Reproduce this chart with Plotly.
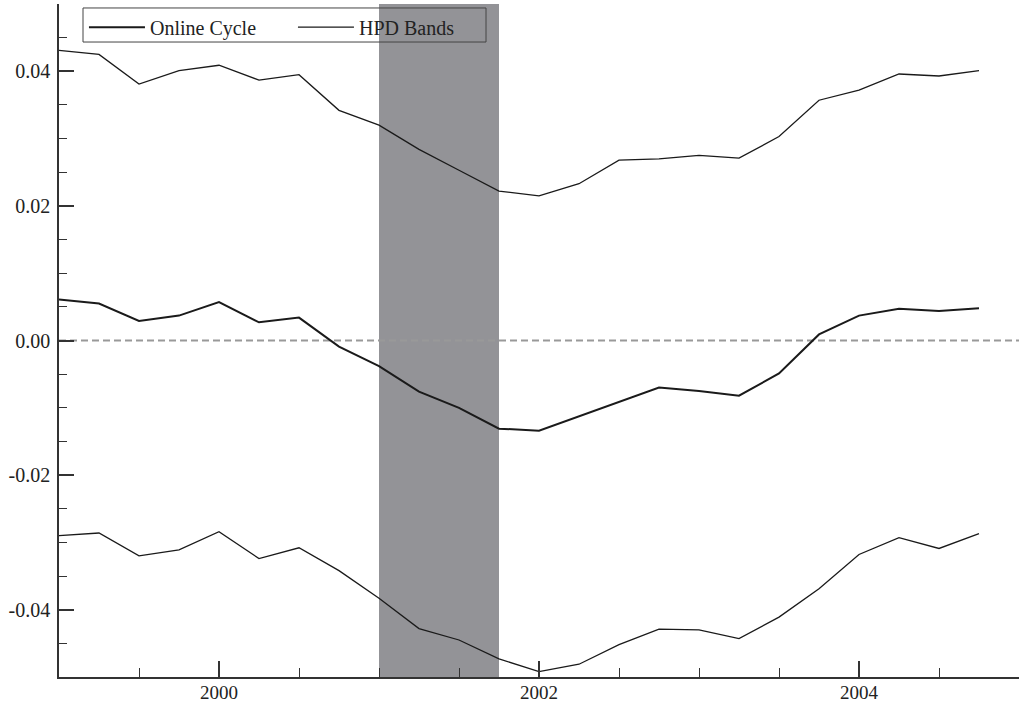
import plotly.graph_objects as go

# Quarterly dates (decimal years)
quarters = [1999.0, 1999.25, 1999.5, 1999.75,
            2000.0, 2000.25, 2000.5, 2000.75,
            2001.0, 2001.25, 2001.5, 2001.75,
            2002.0, 2002.25, 2002.5, 2002.75,
            2003.0, 2003.25, 2003.5, 2003.75,
            2004.0, 2004.25, 2004.5, 2004.75]

online_cycle = [0.0061, 0.0055, 0.0029, 0.0037,
                0.0057, 0.0027, 0.0034, -0.0009,
                -0.0038, -0.0076, -0.0100, -0.0131,
                -0.0134, -0.0113, -0.0092, -0.0070,
                -0.0075, -0.0082, -0.0049, 0.0009,
                0.0037, 0.0047, 0.0044, 0.0048]

hpd_upper = [0.0431, 0.0425, 0.0381, 0.0401,
             0.0409, 0.0387, 0.0395, 0.0342,
             0.0320, 0.0284, 0.0253, 0.0222,
             0.0215, 0.0233, 0.0268, 0.0270,
             0.0275, 0.0271, 0.0303, 0.0357,
             0.0372, 0.0396, 0.0393, 0.0401]

hpd_lower = [-0.0290, -0.0286, -0.0320, -0.0311,
             -0.0284, -0.0324, -0.0308, -0.0342,
             -0.0383, -0.0428, -0.0445, -0.0473,
             -0.0492, -0.0481, -0.0452, -0.0429,
             -0.0430, -0.0443, -0.0411, -0.0369,
             -0.0318, -0.0293, -0.0309, -0.0287]

recession = [2001.0, 2001.75]

y_tickvals = [-0.04, -0.02, 0.0, 0.02, 0.04]
y_ticktext = ["-0.04", "-0.02", "0.00", "0.02", "0.04"]
x_tickvals = [2000, 2002, 2004]
x_ticktext = ["2000", "2002", "2004"]

FONT = "Liberation Serif, Times New Roman, serif"
LINE_COLOR = "#1a1a1a"
AX_COLOR = "#333"

fig = go.Figure()

fig.add_trace(go.Scatter(
    x=quarters, y=online_cycle, mode="lines", name="Online Cycle",
    legend="legend", line=dict(color=LINE_COLOR, width=2.0)))
fig.add_trace(go.Scatter(
    x=quarters, y=hpd_upper, mode="lines", name="HPD Bands",
    legend="legend2", line=dict(color=LINE_COLOR, width=1.3)))
fig.add_trace(go.Scatter(
    x=quarters, y=hpd_lower, mode="lines", name="HPD Bands lower",
    showlegend=False, line=dict(color=LINE_COLOR, width=1.3)))

# recession shading
fig.add_shape(type="rect", xref="x", yref="paper",
              x0=recession[0], x1=recession[1], y0=0, y1=1,
              fillcolor="#939397", line=dict(width=0), layer="below")

# dashed zero line
fig.add_shape(type="line", xref="paper", yref="y",
              x0=0, x1=1, y0=0, y1=0,
              line=dict(color="#999999", width=2, dash="7px,4px"),
              layer="below")

# legend frame
fig.add_shape(type="rect", xref="paper", yref="paper",
              x0=0.025, x1=0.4448, y0=0.9435, y1=0.9941,
              fillcolor="rgba(0,0,0,0)", line=dict(color="#444", width=1),
              layer="above")

legend_common = dict(
    orientation="h", xanchor="left", yanchor="middle",
    bgcolor="rgba(0,0,0,0)", borderwidth=0,
    font=dict(family=FONT, size=20, color="#222"),
    itemwidth=56,
)

fig.update_layout(
    width=1024, height=703,
    margin=dict(l=59, r=5, t=4, b=26, autoexpand=False),
    paper_bgcolor="white", plot_bgcolor="rgba(0,0,0,0)",
    font=dict(family=FONT, size=20, color="#222"),
    showlegend=True,
    legend=dict(x=0.026, y=0.9655, **legend_common),
    legend2=dict(x=0.2437, y=0.9655, **legend_common),
    xaxis=dict(
        range=[1999.0, 2005.0], showgrid=False, zeroline=False, automargin=False,
        showline=True, linecolor=AX_COLOR, linewidth=1.5,
        tickmode="array", tickvals=x_tickvals, ticktext=x_ticktext,
        ticks="inside", ticklen=16, tickwidth=1.5, tickcolor=AX_COLOR,
        ticklabelstandoff=-3,
        minor=dict(tickmode="linear", tick0=1999.0, dtick=0.5, ticks="inside",
                   ticklen=9, tickwidth=1.2, tickcolor=AX_COLOR, showgrid=False),
        tickfont=dict(family=FONT, size=19, color="#222"),
    ),
    yaxis=dict(
        range=[-0.05, 0.05], showgrid=False, zeroline=False, automargin=False,
        showline=True, linecolor=AX_COLOR, linewidth=1.5,
        tickmode="array", tickvals=y_tickvals, ticktext=y_ticktext,
        ticks="inside", ticklen=15, tickwidth=1.5, tickcolor=AX_COLOR,
        ticklabelstandoff=3,
        minor=dict(tickmode="linear", tick0=0, dtick=0.005, ticks="inside",
                   ticklen=8, tickwidth=1.2, tickcolor=AX_COLOR, showgrid=False),
        tickfont=dict(family=FONT, size=20, color="#222"),
    ),
)

fig.write_html("out.html")
